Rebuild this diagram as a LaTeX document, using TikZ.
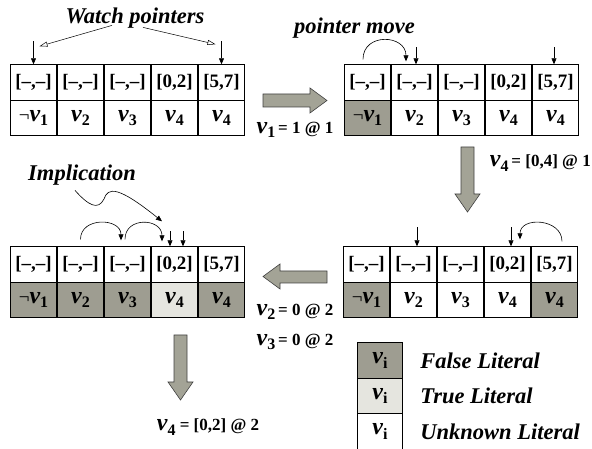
\documentclass[tikz,border=0pt]{standalone}
\usepackage{fontspec}
\setmainfont{Liberation Serif}
\usetikzlibrary{arrows.meta,positioning}

\definecolor{falsegray}{RGB}{158,157,145}
\definecolor{truegray}{RGB}{229,229,223}
\definecolor{arrowgray}{RGB}{163,163,150}

\newcommand\varlit[1]{{\fontsize{24}{24}\selectfont\bfseries\itshape v}\raisebox{-0.55ex}{\fontsize{16}{16}\selectfont\bfseries #1}}
\newcommand\neglit[1]{\textmd{¬}\varlit{#1}}

\tikzset{
  cell/.style={draw, line width=0.9pt, minimum width=45.5pt, minimum height=35.5pt, inner sep=0pt, font=\fontsize{19}{22}\selectfont\bfseries},
  ptr/.style={-{Triangle[length=6pt,width=5pt]}, line width=0.6pt},
  fatarrow/.style={fill=arrowgray, draw=black!75, line width=0.6pt},
  title/.style={font=\fontsize{22.5}{26}\selectfont\bfseries\itshape, inner sep=0pt},
  steplabel/.style={font=\fontsize{17}{20}\selectfont\bfseries, inner sep=0pt}
}

\begin{document}
\begin{tikzpicture}[x=1pt,y=1pt]
    \useasboundingbox (0,0) rectangle (592,449);
    % bound row of the four arrays
    \foreach \tab/\x/\y in {a/-13.5/366.5, b/320.5/366.5, c/319.5/184.5, d/-13.5/184.5}
      \foreach \i/\t in {1/{[--,--]},2/{[--,--]},3/{[--,--]},4/{[0,2]},5/{[5,7]}}
        \node[cell, fill=white] (\tab b\i) at (\x+\i*47, \y) {\t};
    % literal rows
    \foreach \i/\v/\f in {1/{\neglit1}/white, 2/{\varlit2}/white, 3/{\varlit3}/white, 4/{\varlit4}/white, 5/{\varlit4}/white}
      \node[cell, fill=\f] (al\i) at (\i*47-13.5, 331) {\v};
    \foreach \i/\v/\f in {1/{\neglit1}/falsegray, 2/{\varlit2}/white, 3/{\varlit3}/white, 4/{\varlit4}/white, 5/{\varlit4}/white}
      \node[cell, fill=\f] (bl\i) at (\i*47+320.5, 331) {\v};
    \foreach \i/\v/\f in {1/{\neglit1}/falsegray, 2/{\varlit2}/white, 3/{\varlit3}/white, 4/{\varlit4}/white, 5/{\varlit4}/falsegray}
      \node[cell, fill=\f] (cl\i) at (\i*47+319.5, 149) {\v};
    \foreach \i/\v/\f in {1/{\neglit1}/falsegray, 2/{\varlit2}/falsegray, 3/{\varlit3}/falsegray, 4/{\varlit4}/truegray, 5/{\varlit4}/falsegray}
      \node[cell, fill=\f] (dl\i) at (\i*47-13.5, 149) {\v};

    % watch pointers
    \node[title] (watch) at (135,431) {Watch pointers};
    \coordinate (atail1) at ([yshift=23pt]ab1.north);
    \coordinate (atail5) at ([yshift=23pt]ab5.north);
    \draw[ptr] (atail1) -- (ab1.north);
    \draw[ptr] (atail5) -- (ab5.north);
    \draw[-{Triangle[open,length=8pt,width=5pt]}, line width=0.5pt] ([xshift=-23pt,yshift=3pt]watch.south) -- ([xshift=6pt,yshift=-5pt]atail1);
    \draw[-{Triangle[open,length=8pt,width=5pt]}, line width=0.5pt] ([xshift=8pt,yshift=1pt]watch.south) -- ([xshift=-6pt,yshift=-3pt]atail5);

    % pointer move
    \node[title] (move) at (354.5,421) {pointer move};
    \draw[ptr] ([xshift=1.5pt,yshift=17pt]bb2.north) -- ([xshift=1.5pt]bb2.north);
    \draw[ptr] ([xshift=-1.5pt,yshift=17pt]bb5.north) -- ([xshift=-1.5pt]bb5.north);
    \draw[ptr] ([xshift=-4.5pt,yshift=5pt]bb1.north) to[out=90,in=90,looseness=1.6] ([xshift=-8.5pt,yshift=3pt]bb2.north);

    % after v4 = [0,4]
    \draw[ptr] ([xshift=3.5pt,yshift=19pt]cb2.north) -- ([xshift=3.5pt]cb2.north);
    \draw[ptr] ([xshift=3.5pt,yshift=19pt]cb4.north) -- ([xshift=3.5pt]cb4.north);
    \draw[ptr] ([xshift=7.5pt,yshift=5pt]cb5.north) to[out=90,in=90,looseness=1.4] ([xshift=12.5pt,yshift=7pt]cb4.north);

    % implication
    \node[title] (impl) at (82,274) {Implication};
    \draw[ptr] ([xshift=-4.5pt,yshift=15pt]db4.north) -- ([xshift=-4.5pt]db4.north);
    \draw[ptr] ([xshift=8.5pt,yshift=15pt]db4.north) -- ([xshift=8.5pt]db4.north);
    \draw[ptr] ([yshift=7pt]db2.north) to[out=90,in=90,looseness=1.43] ([xshift=-6.5pt,yshift=6pt]db3.north);
    \draw[ptr] ([xshift=-2.5pt,yshift=7pt]db3.north) to[out=90,in=90,looseness=1.6] ([xshift=-12.5pt,yshift=5pt]db4.north);
    \draw[ptr] ([xshift=-7pt,yshift=-5pt]impl.south) .. controls (88,244) and (98,238) .. (104,250) .. controls (108,262) and (118,263) .. ([xshift=-12.5pt,yshift=25pt]db4.north);

    % step arrows
    \draw[fatarrow] (263,342) -- (310,342) -- (310,336) -- (327,348.5) -- (310,361) -- (310,355) -- (263,355) -- cycle;
    \draw[fatarrow] (461,302) -- (461,255) -- (455,255) -- (467.5,237) -- (480,255) -- (474,255) -- (474,302) -- cycle;
    \draw[fatarrow] (327,178) -- (280,178) -- (280,185) -- (263,172.5) -- (280,160) -- (280,166) -- (327,166) -- cycle;
    \draw[fatarrow] (174,114) -- (174,67) -- (168,67) -- (180.5,49) -- (193,67) -- (187,67) -- (187,114) -- cycle;
    \node[steplabel] (setv1) at (295,319) {\varlit1\,= 1 @ 1};
    \node[steplabel, anchor=east] (setv4) at (591,286) {\varlit4\,= [0,4] @ 1};
    \node[steplabel] (setv2) at (295,137) {\varlit2\,= 0 @ 2};
    \node[steplabel] (setv3) at (295,107) {\varlit3\,= 0 @ 2};
    \node[steplabel] (impv4) at (208,22) {\varlit4 = [0,2] @ 2};

    % legend
    \node[cell, fill=falsegray] (keyfalse) at (380,88.5) {\varlit{i}};
    \node[cell, fill=truegray] (keytrue) at (380,53) {\varlit{i}};
    \node[cell, fill=white] (keyunknown) at (380,17.5) {\varlit{i}};
    \node[title, right=17pt of keyfalse] (txtfalse) {False Literal};
    \node[title, right=17pt of keytrue] (txttrue) {True Literal};
    \node[title, right=17pt of keyunknown] (txtunknown) {Unknown Literal};
\end{tikzpicture}
\end{document}
